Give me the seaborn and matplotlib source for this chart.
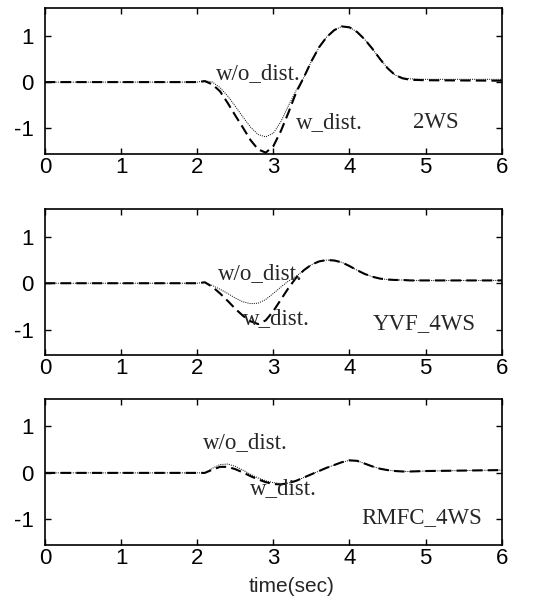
import numpy as np
import pandas as pd
import matplotlib
matplotlib.use("Agg")
import matplotlib.pyplot as plt
import seaborn as sns

# time grid used by all curves (sec)
time = [0.0, 2.0, 2.1, 2.2, 2.3, 2.4, 2.5, 2.6, 2.7, 2.8, 2.9, 3.0, 3.1, 3.2, 3.3,
        3.4, 3.5, 3.6, 3.7, 3.8, 3.9, 4.0, 4.1, 4.2, 4.3, 4.4, 4.5, 4.6, 4.7, 4.8,
        5.0, 6.0]

# 2WS
ws2_w_dist = [0.0, 0.0, 0.02, -0.05, -0.2, -0.45, -0.72, -0.98, -1.25, -1.45, -1.52,
              -1.38, -1.05, -0.65, -0.22, 0.1, 0.45, 0.75, 0.97, 1.12, 1.2, 1.18,
              1.08, 0.92, 0.72, 0.5, 0.3, 0.15, 0.08, 0.05, 0.04, 0.03]
ws2_wo_dist = [0.0, 0.0, 0.03, 0.0, -0.12, -0.3, -0.52, -0.75, -0.97, -1.13, -1.18,
               -1.1, -0.85, -0.5, -0.18, 0.1, 0.45, 0.75, 0.97, 1.12, 1.2, 1.18,
               1.08, 0.92, 0.72, 0.5, 0.3, 0.15, 0.09, 0.07, 0.06, 0.06]

# YVF_4WS
yvf_w_dist = [0.0, 0.0, 0.02, -0.08, -0.22, -0.38, -0.55, -0.7, -0.82, -0.88, -0.8,
              -0.6, -0.35, -0.1, 0.12, 0.28, 0.4, 0.47, 0.5, 0.49, 0.45, 0.37,
              0.28, 0.2, 0.14, 0.1, 0.08, 0.07, 0.07, 0.06, 0.06, 0.06]
yvf_wo_dist = [0.0, 0.0, 0.02, -0.05, -0.13, -0.22, -0.32, -0.4, -0.44, -0.43, -0.35,
               -0.22, -0.08, 0.05, 0.15, 0.28, 0.4, 0.47, 0.5, 0.49, 0.45, 0.37,
               0.28, 0.2, 0.14, 0.1, 0.08, 0.07, 0.07, 0.06, 0.06, 0.06]

# RMFC_4WS
rmfc_w_dist = [0.0, 0.0, 0.0, 0.07, 0.13, 0.13, 0.08, 0.01, -0.07, -0.14, -0.2,
               -0.24, -0.25, -0.22, -0.17, -0.1, -0.03, 0.04, 0.11, 0.17, 0.23,
               0.27, 0.26, 0.2, 0.14, 0.09, 0.06, 0.04, 0.03, 0.03, 0.04, 0.06]
rmfc_wo_dist = [0.0, 0.0, 0.0, 0.1, 0.18, 0.19, 0.14, 0.06, -0.03, -0.11, -0.17,
                -0.21, -0.23, -0.22, -0.17, -0.1, -0.03, 0.04, 0.11, 0.17, 0.23,
                0.27, 0.26, 0.2, 0.14, 0.09, 0.06, 0.04, 0.03, 0.03, 0.04, 0.06]

panels = [
    ("2WS", ws2_w_dist, ws2_wo_dist,
     [(2.25, 0.07), (3.3, -0.98), (4.83, -0.98)]),
    ("YVF_4WS", yvf_w_dist, yvf_wo_dist,
     [(2.27, 0.09), (2.6, -0.88), (4.31, -0.99)]),
    ("RMFC_4WS", rmfc_w_dist, rmfc_wo_dist,
     [(2.07, 0.54), (2.69, -0.45), (4.16, -1.08)]),
]

sns.set_style("ticks")
plt.rcParams['font.family'] = ['Liberation Sans', 'DejaVu Sans']
plt.rcParams['axes.unicode_minus'] = False

fig = plt.figure(figsize=(5.38, 6.04), dpi=100)
bottoms = [0.745, 0.412, 0.098]
serif = ['Liberation Serif', 'DejaVu Serif']

for (name, w_dist, wo_dist, text_pos), b in zip(panels, bottoms):
    ax = fig.add_axes([0.0836, b, 0.849, 0.242])
    df = pd.DataFrame({"time": time, "w_dist": w_dist, "wo_dist": wo_dist})
    sns.lineplot(data=df, x="time", y="wo_dist", ax=ax, color="k",
                 linewidth=0.7, linestyle=(0, (1, 1.2)))
    sns.lineplot(data=df, x="time", y="w_dist", ax=ax, color="k",
                 linewidth=1.5, linestyle=(0, (5, 2.5)))
    ax.set_xlim(0, 6)
    ax.set_ylim(-1.55, 1.6)
    ax.set_xticks([0, 1, 2, 3, 4, 5, 6])
    ax.set_yticks([-1, 0, 1])
    ax.set_xlabel("")
    ax.set_ylabel("")
    ax.tick_params(direction="in", top=True, right=True, length=4,
                   width=1, labelsize=16, colors="k")
    ax.tick_params(axis="x", pad=2)
    ax.tick_params(axis="y", pad=8)
    for sp in ax.spines.values():
        sp.set_linewidth(1.2)
        sp.set_color("k")
    (x1, y1), (x2, y2), (x3, y3) = text_pos
    ax.text(x1, y1, "w/o_dist.", family=serif, fontsize=16.5, va="baseline")
    ax.text(x2, y2, "w_dist.", family=serif, fontsize=16.5, va="baseline")
    ax.text(x3, y3, name, family=serif, fontsize=16.5, va="baseline")

ax.set_xlabel("time(sec)", fontsize=15, labelpad=7)
ax.xaxis.set_label_coords(0.54, -0.22)
ax.xaxis.label.set_va("top")

fig.savefig("out.png", dpi=100, facecolor="white")
